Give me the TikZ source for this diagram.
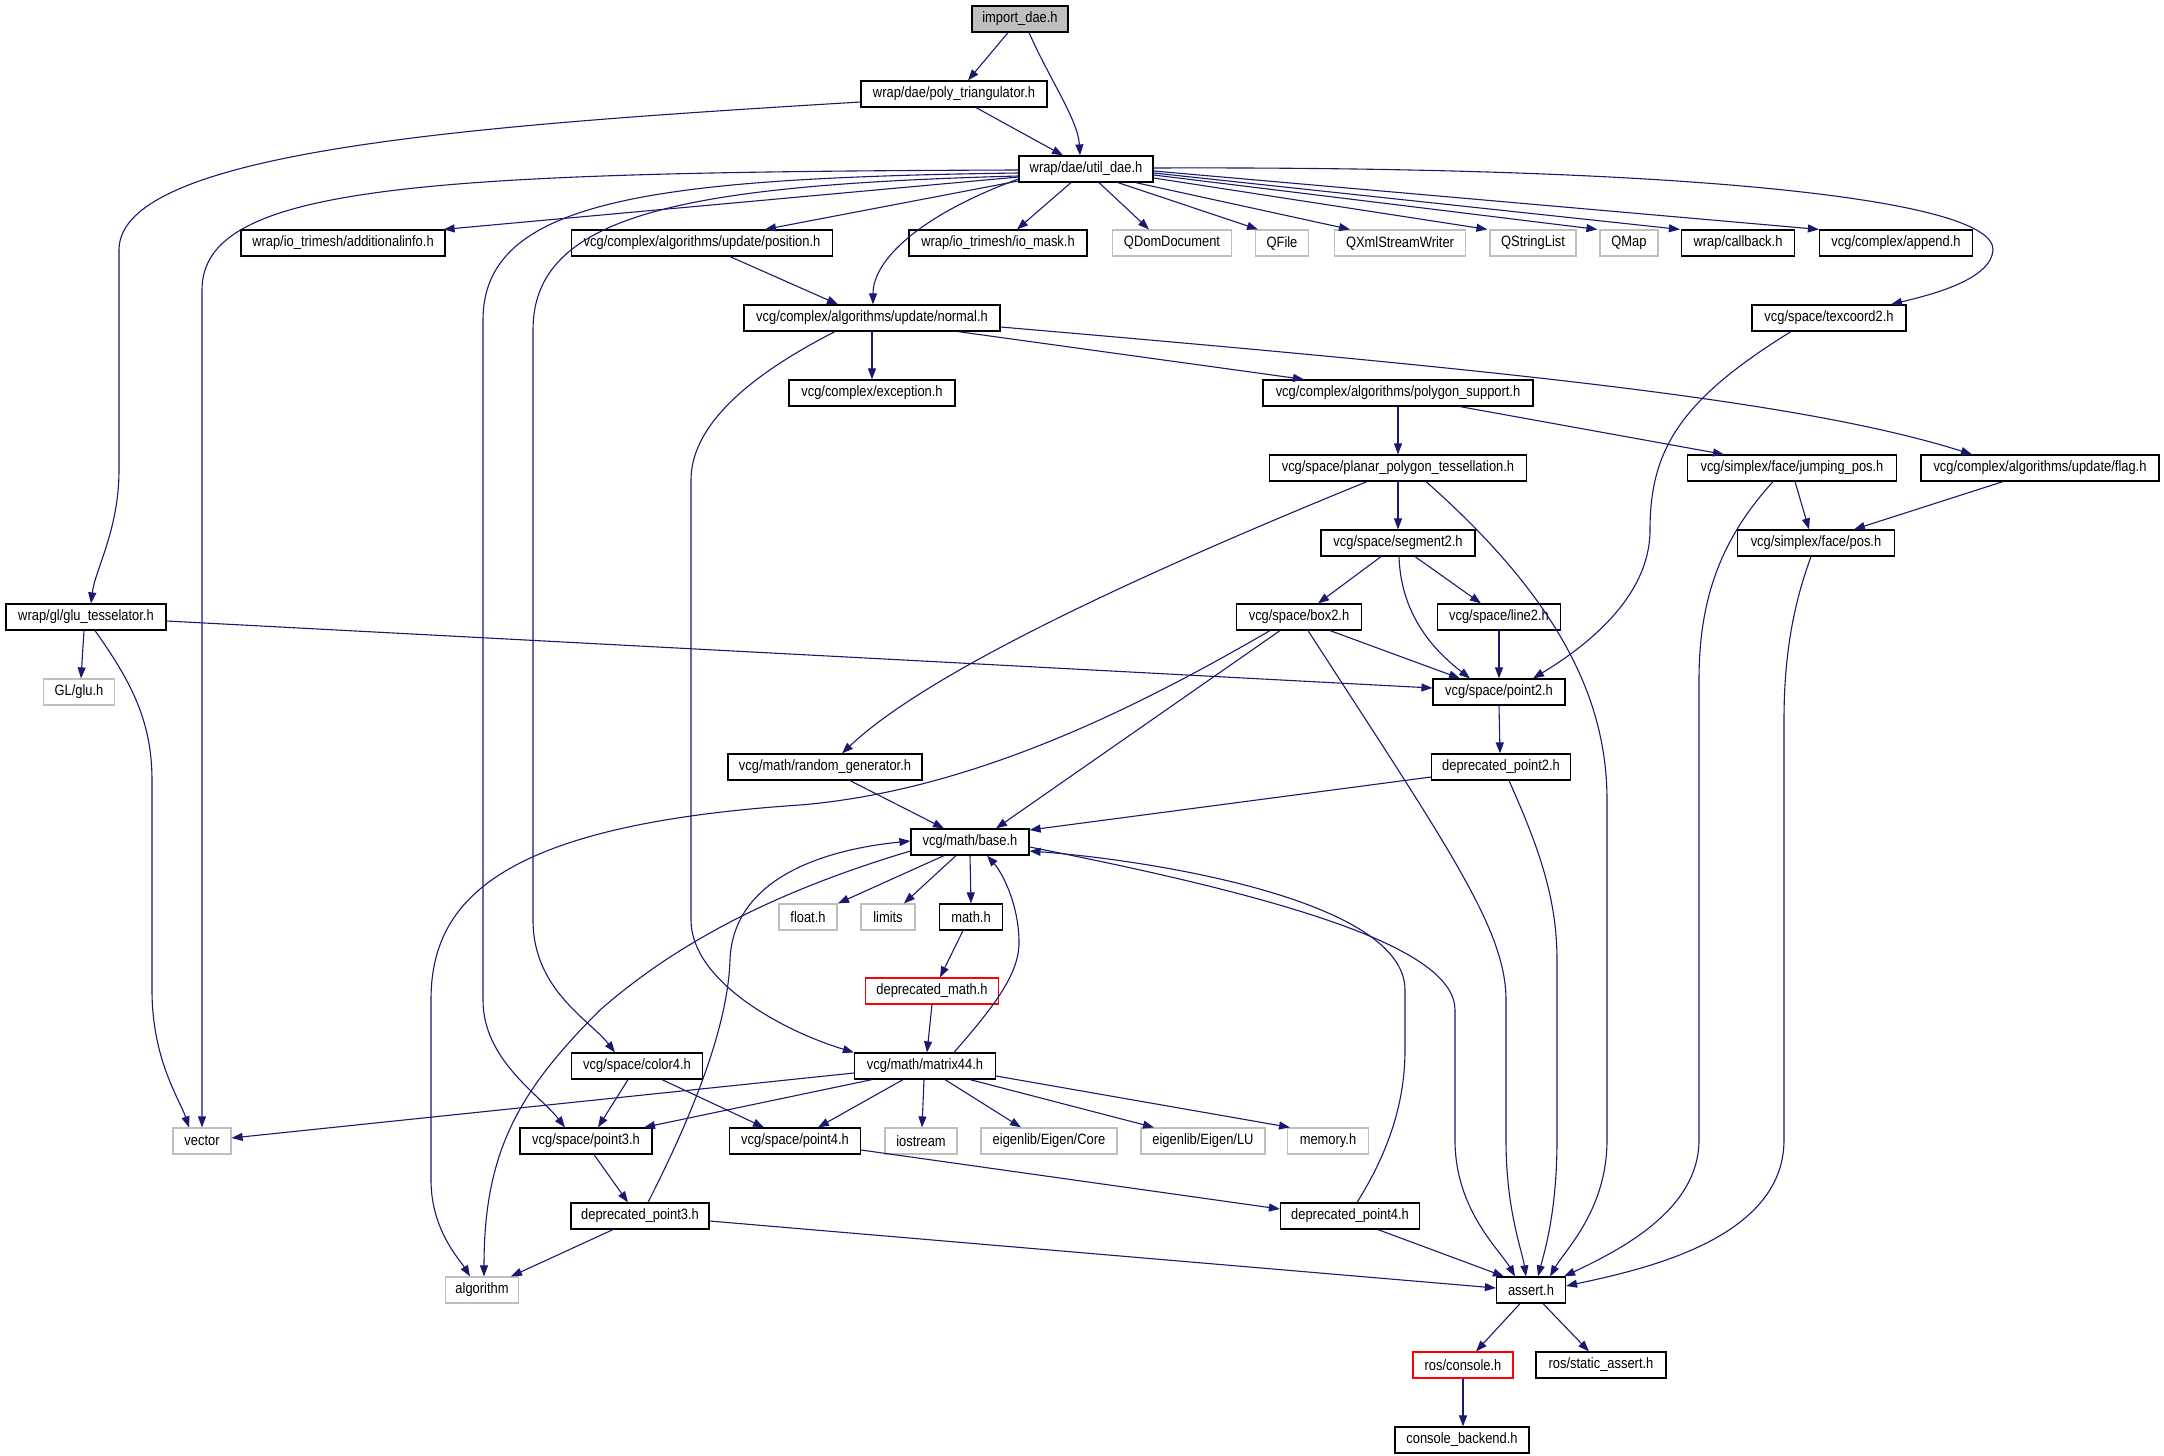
\documentclass[tikz,border=0pt]{standalone}
\usepackage{fontspec}
\setmainfont{Liberation Sans}[FakeStretch=0.86]
\usetikzlibrary{arrows.meta,calc}
\definecolor{edgec}{HTML}{191970}
\definecolor{boxgray}{HTML}{BFBFBF}
\tikzset{
  box/.style={draw=black, line width=1.2pt, rectangle, minimum height=26pt, inner sep=2pt,
    font=\fontsize{15}{17}\selectfont, anchor=center},
  gbox/.style={box, draw=boxgray},
  rbox/.style={box, draw=red},
  ibox/.style={box, fill=boxgray},
  edge/.style={draw=edgec, line width=1.1pt, -{Triangle[length=11pt,width=8pt]}},
}
\begin{document}
\begin{tikzpicture}[x=1pt,y=-1pt]
\fill[white] (0,0) rectangle (2164,1456);
\useasboundingbox (0,0) rectangle (2164,1456);
% nodes
\node[ibox, minimum width=96pt] (imp) at (1020,19) {import\_dae.h};
\node[box, minimum width=186pt] (poly) at (954,94) {wrap/dae/poly\_triangulator.h};
\node[box, minimum width=134pt] (util) at (1086,169) {wrap/dae/util\_dae.h};
\node[box, minimum width=204pt] (addinfo) at (343,243) {wrap/io\_trimesh/additionalinfo.h};
\node[box, minimum width=261pt] (position) at (702,243) {vcg/complex/algorithms/update/position.h};
\node[box, minimum width=178pt] (iomask) at (998,243) {wrap/io\_trimesh/io\_mask.h};
\node[gbox, minimum width=119pt] (qdom) at (1172,243) {QDomDocument};
\node[gbox, minimum width=53pt] (qfile) at (1282,243) {QFile};
\node[gbox, minimum width=131pt] (qxml) at (1400,243) {QXmlStreamWriter};
\node[gbox, minimum width=86pt] (qsl) at (1533,243) {QStringList};
\node[gbox, minimum width=58pt] (qmap) at (1629,243) {QMap};
\node[box, minimum width=113pt] (callback) at (1738,243) {wrap/callback.h};
\node[box, minimum width=153pt] (append) at (1896,243) {vcg/complex/append.h};
\node[box, minimum width=256pt] (normal) at (872,318) {vcg/complex/algorithms/update/normal.h};
\node[box, minimum width=154pt] (texcoord) at (1829,318) {vcg/space/texcoord2.h};
\node[box, minimum width=166pt] (exception) at (872,393) {vcg/complex/exception.h};
\node[box, minimum width=270pt] (polysup) at (1398,393) {vcg/complex/algorithms/polygon\_support.h};
\node[box, minimum width=257pt] (planar) at (1398,468) {vcg/space/planar\_polygon\_tessellation.h};
\node[box, minimum width=209pt] (jumping) at (1792,468) {vcg/simplex/face/jumping\_pos.h};
\node[box, minimum width=238pt] (flag) at (2040,468) {vcg/complex/algorithms/update/flag.h};
\node[box, minimum width=154pt] (segment2) at (1398,543) {vcg/space/segment2.h};
\node[box, minimum width=157pt] (pos) at (1816,543) {vcg/simplex/face/pos.h};
\node[box, minimum width=160pt] (glu) at (86,617) {wrap/gl/glu\_tesselator.h};
\node[box, minimum width=125pt] (box2) at (1299,617) {vcg/space/box2.h};
\node[box, minimum width=123pt] (line2) at (1499,617) {vcg/space/line2.h};
\node[gbox, minimum width=71pt] (glh) at (79,692) {GL/glu.h};
\node[box, minimum width=132pt] (point2) at (1499,692) {vcg/space/point2.h};
\node[box, minimum width=194pt] (random) at (825,767) {vcg/math/random\_generator.h};
\node[box, minimum width=139pt] (dp2) at (1501,767) {deprecated\_point2.h};
\node[box, minimum width=118pt] (base) at (970,842) {vcg/math/base.h};
\node[gbox, minimum width=58pt] (float) at (808,917) {float.h};
\node[gbox, minimum width=54pt] (limits) at (888,917) {limits};
\node[box, minimum width=63pt] (math) at (971,917) {math.h};
\node[rbox, minimum width=133pt] (dmath) at (932,991) {deprecated\_math.h};
\node[box, minimum width=131pt] (color4) at (637,1066) {vcg/space/color4.h};
\node[box, minimum width=141pt] (matrix) at (925,1066) {vcg/math/matrix44.h};
\node[gbox, minimum width=58pt] (vector) at (202,1141) {vector};
\node[box, minimum width=132pt] (point3) at (586,1141) {vcg/space/point3.h};
\node[box, minimum width=131pt] (point4) at (795,1141) {vcg/space/point4.h};
\node[gbox, minimum width=72pt] (iostream) at (921,1141) {iostream};
\node[gbox, minimum width=136pt] (ecore) at (1049,1141) {eigenlib/Eigen/Core};
\node[gbox, minimum width=124pt] (elu) at (1203,1141) {eigenlib/Eigen/LU};
\node[gbox, minimum width=81pt] (memory) at (1328,1141) {memory.h};
\node[box, minimum width=138pt] (dp3) at (640,1216) {deprecated\_point3.h};
\node[box, minimum width=139pt] (dp4) at (1350,1216) {deprecated\_point4.h};
\node[gbox, minimum width=73pt] (algorithm) at (482,1290) {algorithm};
\node[box, minimum width=69pt] (assert) at (1531,1290) {assert.h};
\node[rbox, minimum width=100pt] (console) at (1463,1365) {ros/console.h};
\node[box, minimum width=130pt] (static) at (1601,1365) {ros/static\_assert.h};
\node[box, minimum width=134pt] (backend) at (1462,1440) {console\_backend.h};
% edges
\draw[edge] ($(imp.south)+(-12,0)$) -- ($(poly.north)+(14,0)$);
\draw[edge] ($(imp.south)+(9,0)$) .. controls (1050,80) and (1078,120) .. ($(util.north)+(-6,0)$);
\draw[edge] ($(poly.south)+(22,0)$) -- ($(util.north)+(-23,0)$);
\draw[edge] ($(poly.west)+(0,8)$) .. controls (480,125) and (119,150) .. (119,250) -- (119,470) .. controls (119,530) and (95,570) .. ($(glu.north)+(5,0)$);
\draw[edge] ($(util.west)+(0,8)$) -- ($(addinfo.north east)+(-2,0)$);
\draw[edge] ($(util.west)+(0,12)$) -- ($(position.north)+(63,0)$);
\draw[edge] ($(util.west)+(0,1)$) .. controls (420,172) and (202,185) .. (202,290) -- (vector.north);
\draw[edge] ($(util.west)+(0,4)$) .. controls (650,178) and (483,200) .. (483,320) -- (483,1000) .. controls (483,1060) and (540,1095) .. ($(point3.north)+(-21,0)$);
\draw[edge] ($(util.west)+(0,7)$) .. controls (680,185) and (533,215) .. (533,330) -- (533,920) .. controls (533,990) and (590,1020) .. ($(color4.north)+(-22,0)$);
\draw[edge] ($(util.west)+(0,10)$) .. controls (920,215) and (873,260) .. ($(normal.north)+(1,0)$);
\draw[edge] ($(util.south)+(-15,0)$) -- ($(iomask.north)+(19,0)$);
\draw[edge] ($(util.south)+(13,0)$) -- ($(qdom.north)+(-23,0)$);
\draw[edge] ($(util.south)+(32,0)$) -- ($(qfile.north)+(-24,0)$);
\draw[edge] ($(util.south east)+(-18,0)$) -- ($(qxml.north)+(-50,0)$);
\draw[edge] ($(util.east)+(0,9)$) -- ($(qsl.north west)+(-2,0)$);
\draw[edge] ($(util.east)+(0,6)$) -- ($(qmap.north west)+(-2,0)$);
\draw[edge] ($(util.east)+(0,4)$) -- ($(callback.north west)+(-1,0)$);
\draw[edge] ($(util.east)+(0,2)$) -- (append.north west);
\draw[edge] ($(util.east)+(0,-1)$) .. controls (1700,166) and (1995,200) .. (1993,250) .. controls (1991,280) and (1930,295) .. ($(texcoord.north)+(62,0)$);
\draw[edge] ($(position.south)+(28,0)$) -- ($(normal.north)+(-34,0)$);
\draw[edge] (normal.south) -- (exception.north);
\draw[edge] ($(normal.south)+(86,0)$) -- ($(polysup.north)+(-94,0)$);
\draw[edge] ($(normal.east)+(0,9)$) .. controls (1500,370) and (1800,400) .. ($(flag.north)+(-68,0)$);
\draw[edge] ($(normal.south)+(-37,0)$) .. controls (740,380) and (691,430) .. (691,480) -- (691,920) .. controls (691,980) and (780,1030) .. (matrix.north west);
\draw[edge] ($(texcoord.south)+(-38,0)$) .. controls (1680,400) and (1650,450) .. (1650,530) .. controls (1650,600) and (1580,650) .. ($(point2.north)+(34,0)$);
\draw[edge] (polysup.south) -- (planar.north);
\draw[edge] ($(polysup.south)+(62,0)$) -- ($(jumping.north)+(-68,0)$);
\draw[edge] ($(planar.south)+(-31,0)$) .. controls (1150,570) and (930,670) .. ($(random.north)+(17,0)$);
\draw[edge] (planar.south) -- (segment2.north);
\draw[edge] ($(planar.south)+(28,0)$) .. controls (1560,600) and (1607,700) .. (1607,800) -- (1607,1140) .. controls (1607,1210) and (1565,1250) .. ($(assert.north)+(19,0)$);
\draw[edge] ($(jumping.south)+(3,0)$) -- ($(pos.north)+(-7,0)$);
\draw[edge] ($(jumping.south)+(-19,0)$) .. controls (1720,540) and (1699,600) .. (1699,680) -- (1699,1140) .. controls (1699,1210) and (1620,1250) .. ($(assert.north east)+(-2,0)$);
\draw[edge] ($(flag.south)+(-37,0)$) -- ($(pos.north)+(38,0)$);
\draw[edge] ($(pos.south)+(-5,0)$) .. controls (1795,600) and (1784,650) .. (1784,720) -- (1784,1140) .. controls (1784,1240) and (1640,1270) .. ($(assert.east)+(0,-4)$);
\draw[edge] ($(segment2.south)+(-17,0)$) -- ($(box2.north)+(19,0)$);
\draw[edge] ($(segment2.south)+(17,0)$) -- ($(line2.north)+(-18,0)$);
\draw[edge] ($(segment2.south)+(1,0)$) .. controls (1401,620) and (1440,655) .. ($(point2.north)+(-29,0)$);
\draw[edge] ($(glu.south)+(-2,0)$) -- ($(glh.north)+(2,0)$);
\draw[edge] ($(glu.south)+(9,0)$) .. controls (130,680) and (152,720) .. (152,780) -- (152,990) .. controls (152,1060) and (180,1100) .. ($(vector.north)+(-13,0)$);
\draw[edge] ($(glu.east)+(0,4)$) -- ($(point2.west)+(0,-4)$);
\draw[edge] ($(box2.south)+(31,0)$) -- ($(point2.north)+(-39,0)$);
\draw[edge] ($(box2.south)+(-19,0)$) -- ($(base.north)+(26,0)$);
\draw[edge] ($(box2.south)+(-29,0)$) .. controls (1150,700) and (980,790) .. (800,805) .. controls (500,825) and (431,900) .. (431,1000) -- (431,1180) .. controls (431,1230) and (460,1260) .. ($(algorithm.north)+(-12,0)$);
\draw[edge] ($(box2.south)+(9,0)$) .. controls (1450,850) and (1506,930) .. (1506,1000) -- (1506,1140) .. controls (1506,1210) and (1522,1250) .. ($(assert.north)+(-5,0)$);
\draw[edge] (line2.south) -- (point2.north);
\draw[edge] (point2.south) -- ($(dp2.north)+(-1,0)$);
\draw[edge] ($(random.south)+(25,0)$) -- ($(base.north)+(-26,0)$);
\draw[edge] ($(dp2.west)+(0,10)$) -- ($(base.east)+(0,-12)$);
\draw[edge] ($(dp2.south)+(8,0)$) .. controls (1540,850) and (1557,900) .. (1557,960) -- (1557,1140) .. controls (1557,1210) and (1545,1250) .. ($(assert.north)+(7,0)$);
\draw[edge] ($(base.south)+(-26,0)$) -- ($(float.north)+(30,0)$);
\draw[edge] ($(base.south)+(-14,0)$) -- ($(limits.north)+(16,0)$);
\draw[edge] (base.south) -- (math.north);
\draw[edge] ($(base.west)+(0,9)$) .. controls (780,890) and (680,940) .. (600,1010) .. controls (520,1090) and (484,1150) .. ($(algorithm.north)+(2,0)$);
\draw[edge] ($(base.east)+(0,5)$) .. controls (1300,900) and (1455,950) .. (1455,1010) -- (1455,1140) .. controls (1455,1210) and (1500,1250) .. ($(assert.north)+(-16,0)$);
\draw[edge] ($(math.south)+(-8,0)$) -- ($(dmath.north)+(8,0)$);
\draw[edge] (dmath.south) -- ($(matrix.north)+(2,0)$);
\draw[edge] ($(matrix.north)+(29,0)$) .. controls (1000,1000) and (1020,970) .. (1019,940) .. controls (1018,900) and (1000,870) .. ($(base.south)+(17,0)$);
\draw[edge] ($(matrix.west)+(0,7)$) -- ($(vector.east)+(0,-3)$);
\draw[edge] ($(matrix.south)+(-53,0)$) -- ($(point3.north)+(58,0)$);
\draw[edge] ($(matrix.south)+(-22,0)$) -- ($(point4.north)+(23,0)$);
\draw[edge] ($(matrix.south)+(-1,0)$) -- ($(iostream.north)+(1,0)$);
\draw[edge] ($(matrix.south)+(20,0)$) -- ($(ecore.north)+(-28,0)$);
\draw[edge] ($(matrix.south)+(45,0)$) -- ($(elu.north)+(-49,0)$);
\draw[edge] ($(matrix.east)+(0,10)$) -- ($(memory.north)+(-38,0)$);
\draw[edge] ($(color4.south)+(-9,0)$) -- ($(point3.north)+(12,0)$);
\draw[edge] ($(color4.south)+(25,0)$) -- ($(point4.north)+(-31,0)$);
\draw[edge] ($(point3.south)+(8,0)$) -- ($(dp3.north)+(-12,0)$);
\draw[edge] ($(point4.east)+(0,9)$) -- ($(dp4.west)+(0,-7)$);
\draw[edge] ($(dp3.north)+(8,0)$) .. controls (700,1100) and (728,1020) .. (730,960) .. controls (733,880) and (820,850) .. ($(base.west)+(0,-1)$);
\draw[edge] ($(dp3.south)+(-27,0)$) -- ($(algorithm.north)+(29,0)$);
\draw[edge] ($(dp3.east)+(0,5)$) -- ($(assert.west)+(0,-2)$);
\draw[edge] ($(dp4.north)+(7,0)$) .. controls (1390,1150) and (1405,1100) .. (1405,1050) -- (1405,990) .. controls (1405,900) and (1150,860) .. ($(base.east)+(0,9)$);
\draw[edge] ($(dp4.south)+(28,0)$) -- ($(assert.north west)+(8,0)$);
\draw[edge] ($(assert.south)+(-11,0)$) -- ($(console.north)+(13,0)$);
\draw[edge] ($(assert.south)+(12,0)$) -- ($(static.north)+(-12,0)$);
\draw[edge] (console.south) -- ($(backend.north)+(1,0)$);
\end{tikzpicture}
\end{document}
